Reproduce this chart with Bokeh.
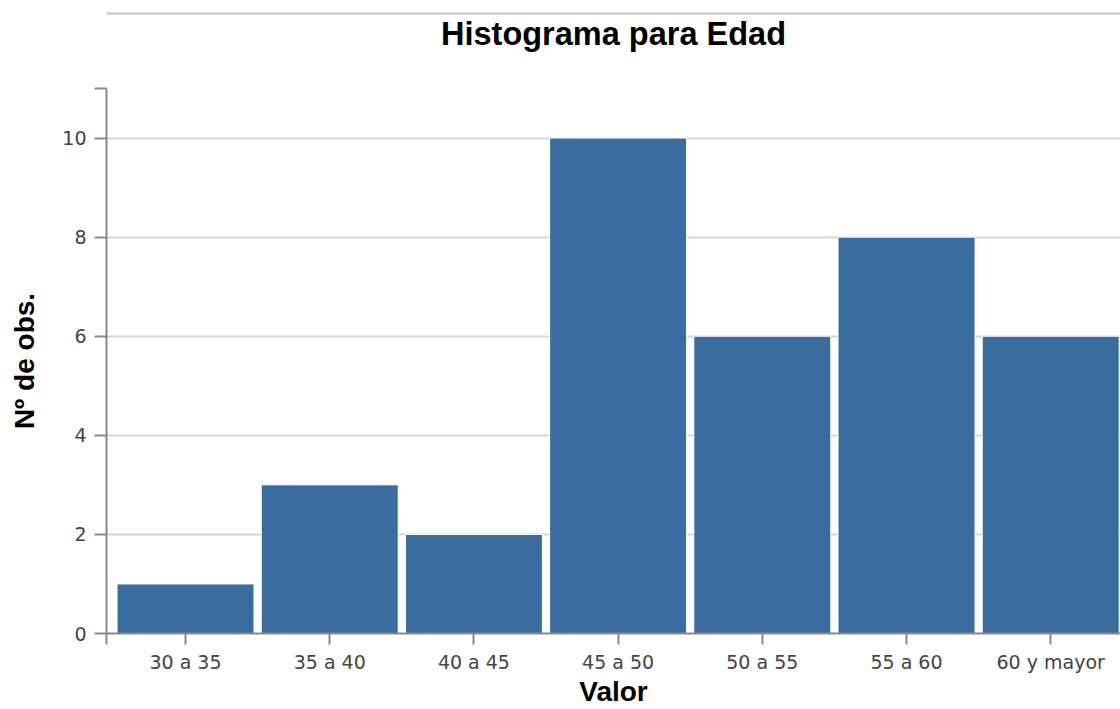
from bokeh.plotting import figure
from bokeh.models import FixedTicker, Range1d, LinearAxis, Title
from bokeh.embed import file_html
from bokeh.resources import INLINE

# ---- data ----
categories = ["30 a 35", "35 a 40", "40 a 45", "45 a 50", "50 a 55", "55 a 60", "60 y mayor"]
counts = [1, 3, 2, 10, 6, 8, 6]
y_ticks = [0, 2, 4, 6, 8, 10]
grid_ticks = [2, 4, 6, 8, 10]

x_pos = list(range(len(categories)))
X_START, X_END = -0.548, 6.484
Y_END = 11

BAR = "#3a6d9d"
AXIS = "#888888"

p = figure(width=1120, height=709,
           x_range=Range1d(X_START, X_END), y_range=Range1d(0, Y_END),
           output_backend="svg", toolbar_location=None, title_location=None,
           min_border_left=106, min_border_right=0,
           min_border_top=88, min_border_bottom=76)
p.outline_line_color = None
p.background_fill_color = "white"
p.border_fill_color = "white"

# main axes (grab them before adding extra layout items)
xa = p.below[0]
ya = p.left[0]

p.vbar(x=x_pos, top=counts, bottom=0, width=0.95,
       fill_color=BAR, line_color="white", line_width=1)

# spacer between frame and title: one invisible tick reserves the space
spacer = LinearAxis(ticker=FixedTicker(ticks=[X_END]), axis_line_color=None,
                    major_tick_line_color="white", major_tick_line_alpha=0.01,
                    minor_tick_line_color=None,
                    major_tick_out=37, major_tick_in=0, major_label_standoff=0,
                    major_label_text_alpha=0, major_label_overrides={X_END: ""})
p.add_layout(spacer, "above")

title = Title(text="Histograma para Edad", align="center", vertical_align="bottom",
              text_font="Liberation Sans", text_font_style="bold",
              text_font_size="32.5px", text_color="black", standoff=0)
p.add_layout(title, "above")

# thin grey rule at the very top
rule = LinearAxis(ticker=FixedTicker(ticks=[]), axis_line_color="#c4c4c4", axis_line_width=2,
                  major_tick_line_color=None, minor_tick_line_color=None,
                  major_tick_out=0, major_tick_in=0, major_label_standoff=0)
p.add_layout(rule, "above")

# x axis
xa.ticker = FixedTicker(ticks=[X_START] + x_pos)
overrides = {i: c for i, c in zip(x_pos, categories)}
overrides[X_START] = ""
xa.major_label_overrides = overrides
xa.axis_label = "Valor"
for ax in (xa, ya):
    ax.axis_line_color = AXIS
    ax.axis_line_width = 2
    ax.major_tick_line_color = AXIS
    ax.major_tick_line_width = 2
    ax.major_tick_in = 0
    ax.minor_tick_line_color = None
    ax.major_label_text_font = "DejaVu Sans"
    ax.major_label_text_font_size = "19px"
    ax.major_label_text_color = "#444444"
    ax.axis_label_text_font = "Liberation Sans"
    ax.axis_label_text_font_style = "bold"
    ax.axis_label_text_font_size = "28px"
    ax.axis_label_text_color = "black"
xa.major_tick_out = 11
xa.major_label_standoff = 6
xa.axis_label_standoff = 0

ya.ticker = FixedTicker(ticks=y_ticks + [Y_END])
ya.major_label_overrides = {Y_END: ""}
ya.axis_label = "Nº de obs."
ya.major_tick_out = 12
ya.major_label_standoff = 8
ya.axis_label_standoff = 19

p.xgrid.visible = False
p.ygrid.ticker = FixedTicker(ticks=grid_ticks)
p.ygrid.grid_line_color = "#d6d6d6"
p.ygrid.grid_line_width = 2

open("out.html", "w").write(file_html(p, INLINE))
